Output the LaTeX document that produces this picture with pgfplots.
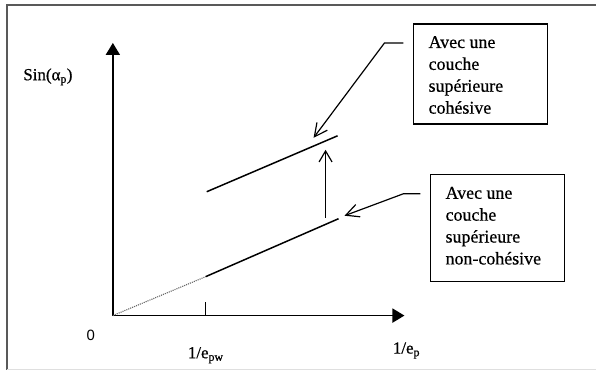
\documentclass[border=0pt]{standalone}
\usepackage{fontspec}
\setmainfont{Liberation Serif}[FakeBold=0.6]
\newfontfamily\arialfont{Liberation Sans}
\usepackage{pgfplots}
\pgfplotsset{compat=1.18}
\usetikzlibrary{arrows.meta}

% Schematic: sin(alpha_p) grows linearly with 1/e_p; a cohesive upper layer shifts the line up.
\pgfplotstableread{
x y
0 0
93 39
}\extrapolated
\pgfplotstableread{
x y
93 39
226 97
}\noncohesive
\pgfplotstableread{
x y
94 124
225 180
}\cohesive

\begin{document}
\begin{tikzpicture}[x=1bp,y=1bp]
\begin{axis}[
  scale only axis, width=292bp, height=273bp,
  xmin=0, xmax=292, ymin=0, ymax=273,
  axis lines=left,
  axis line style={line width=1.8pt, -{Triangle[length=12bp,width=14bp]}},
  xtick={93}, xticklabels={1/e\textsubscript{pw}},
  ytick=\empty,
  tick align=inside, major tick length=14bp,
  tick style={line width=1.3pt, black},
  xticklabel style={font=\fontsize{17}{20}\selectfont, yshift=-28bp},
  clip=false,
]
% page area and partial frame
\path (axis cs:-113,316) rectangle (axis cs:484,-56);
\draw[gray!70!black, line width=1.6pt] (axis cs:-106,-54) -- (axis cs:-106,311) -- (axis cs:484,311);
\draw[gray!25, line width=1pt] (axis cs:-106,-54) -- (axis cs:484,-54);

\addplot[densely dotted, gray!80!black, line width=1.1pt] table {\extrapolated};
\addplot[black, line width=1.5pt] table {\noncohesive};
\addplot[black, line width=1.5pt] table {\cohesive};

% shift between the two lines
\draw[line width=1.2pt, -{Straight Barb[length=11bp,width=13bp]}] (axis cs:213,98) -- (axis cs:213,166);

% callout arrows
\draw[line width=1.2pt, -{Straight Barb[length=13bp,width=13bp]}] (axis cs:291,273) -- (axis cs:272,273) -- (axis cs:201,178);
\draw[line width=1.2pt, -{Straight Barb[length=13bp,width=13bp]}] (axis cs:308,122) -- (axis cs:291,122) -- (axis cs:232,100);

% callout boxes
\draw[line width=1.4pt] (axis cs:301,292) rectangle (axis cs:435,192);
\node[anchor=north west, align=left, font=\fontsize{18}{22}\selectfont, inner sep=0pt]
  at (axis cs:316,280) {Avec une\\couche\\supérieure\\cohésive};
\draw[line width=1.4pt] (axis cs:318,141) rectangle (axis cs:452,34);
\node[anchor=north west, align=left, font=\fontsize{18}{22}\selectfont, inner sep=0pt]
  at (axis cs:333,129) {Avec une\\couche\\supérieure\\non-cohésive};

% axis labels
\node[font=\fontsize{17}{20}\selectfont] at (axis cs:-65,239) {Sin(α\textsubscript{p})};
\node[font=\arialfont\fontsize{15}{18}\selectfont] at (axis cs:-22,-20) {0};
\node[font=\fontsize{17}{20}\selectfont] at (axis cs:294,-35) {1/e\textsubscript{p}};
\end{axis}
\end{tikzpicture}
\end{document}
